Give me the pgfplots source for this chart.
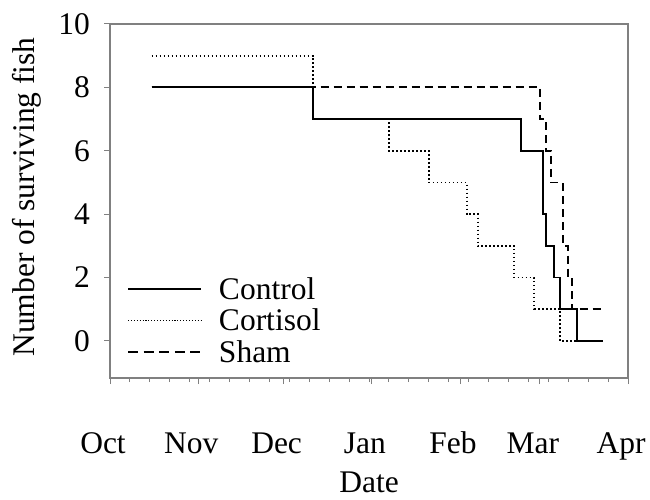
\documentclass[border=0pt]{standalone}
\usepackage{fontspec}
\setmainfont{Liberation Serif}
\usepackage{pgfplots}
\pgfplotsset{compat=1.18}
\definecolor{axgray}{RGB}{128,128,128}
\begin{document}
\begin{tikzpicture}[x=1pt,y=1pt]
\path[use as bounding box] (0,0) rectangle (650,-500);
\begin{axis}[
  at={(110pt,-378pt)}, anchor=south west,
  scale only axis, width=518pt, height=354pt,
  xmin=0, xmax=182, ymin=-1.17, ymax=10,
  axis line style={draw=axgray, line width=1.3pt},
  every tick/.style={draw=axgray, line width=1pt},
  tick align=outside,
  major tick length=6pt, minor tick length=4pt,
  xtick pos=bottom, ytick pos=left,
  xtick={0,31,61,92,123,151,182},
  xticklabels={Oct,Nov,Dec,Jan,Feb,Mar,Apr},
  minor xtick={7,14,...,182},
  ytick={0,2,...,10},
  /pgf/number format/assume math mode=true,
  tick label style={font=\fontsize{31.5}{31.5}\selectfont, inner sep=0pt, text=black},
  xticklabel style={anchor=base, yshift=-69pt, xshift=-7pt},
  yticklabel style={anchor=east, xshift=-14pt},
  label style={font=\fontsize{31.5}{31.5}\selectfont, inner sep=0pt},
  xlabel={Date},
  xlabel style={at={(axis description cs:0.5,0)}, anchor=base, yshift=-114pt},
  ylabel={Number of surviving fish},
  ylabel style={at={(axis description cs:0,0.5)}, anchor=center, yshift=83pt, xshift=4pt},
  legend style={draw=none, fill=none, inner sep=0pt, row sep=8pt,
    font=\fontsize{31.5}{31.5}\selectfont,
    nodes={inner sep=0pt},
    at={(axis description cs:0.0328,0.284)}, anchor=north west},
  legend cell align=left,
  legend image code/.code={\draw[#1] (0pt,0pt) -- (73pt,0pt);},
]
\addplot[const plot, black, line width=1.8pt, dash pattern=on 8pt off 5pt, forget plot] coordinates {
  (14.6,8) (151.1,7) (153.1,6) (155.0,5) (159.1,3) (161.0,2) (162.2,1) (173.3,1)};
\addplot[const plot, black, line width=1.9pt, dash pattern=on 1.6pt off 2.4pt, forget plot] coordinates {
  (14.6,9) (71.3,7) (98.1,6) (112.2,5) (125.3,4) (129.2,3) (142.1,2) (149.1,1) (158.1,0) (164.0,0)};
\addplot[const plot, black, line width=1.8pt, forget plot] coordinates {
  (14.6,8) (71.3,7) (144.3,6) (152.2,4) (153.1,3) (156.0,2) (158.1,1) (164.2,0) (173.3,0)};
\addlegendimage{black, line width=1.8pt}
\addlegendentry{\hspace{17pt}Control}
\addlegendimage{black, line width=1.3pt, dash pattern=on 1.1pt off 1.8pt}
\addlegendentry{\hspace{17pt}Cortisol}
\addlegendimage{black, line width=1.8pt, dash pattern=on 10pt off 5.6pt}
\addlegendentry{\hspace{17pt}Sham}
\end{axis}
\end{tikzpicture}
\end{document}
